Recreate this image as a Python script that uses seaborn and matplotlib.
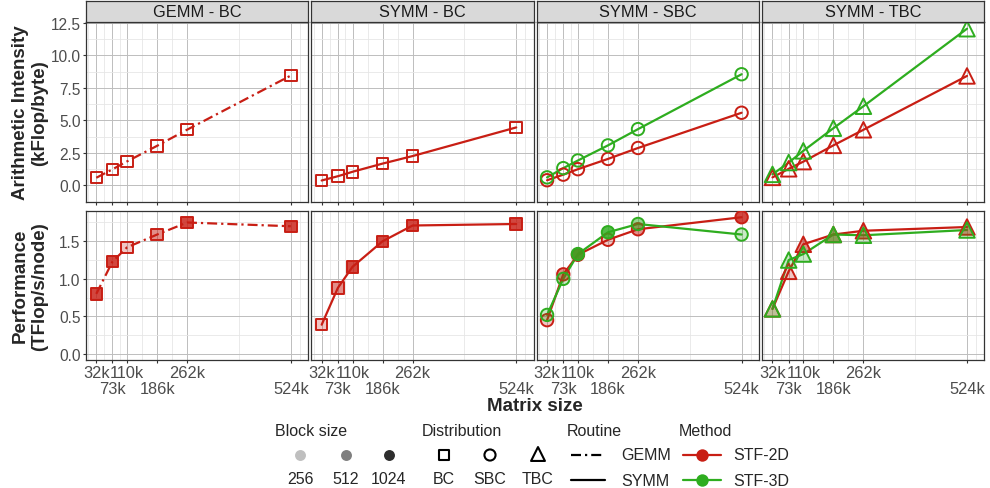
import numpy as np
import pandas as pd
import seaborn as sns
import matplotlib.pyplot as plt
from matplotlib.colors import to_rgba

sizes = [32, 73, 110, 186, 262, 524]
size_labels = ['32k', '73k', '110k', '186k', '262k', '524k']
panels = ['GEMM - BC', 'SYMM - BC', 'SYMM - SBC', 'SYMM - TBC']

# arithmetic intensity (kFlop/byte)
ai_gemm_bc_2d = [0.59, 1.24, 1.85, 3.05, 4.29, 8.45]
ai_symm_bc_2d = [0.38, 0.71, 1.05, 1.68, 2.26, 4.46]
ai_symm_sbc_2d = [0.40, 0.83, 1.25, 2.04, 2.88, 5.59]
ai_symm_sbc_3d = [0.62, 1.33, 1.92, 3.08, 4.33, 8.55]
ai_symm_tbc_2d = [0.62, 1.28, 1.83, 3.08, 4.28, 8.42]
ai_symm_tbc_3d = [0.85, 1.76, 2.66, 4.40, 6.09, 12.05]

# performance (TFlop/s/node)
perf_gemm_bc_2d = [0.80, 1.23, 1.42, 1.59, 1.75, 1.70]
perf_symm_bc_2d = [0.39, 0.88, 1.16, 1.50, 1.71, 1.73]
perf_symm_sbc_2d = [0.45, 1.06, 1.32, 1.52, 1.66, 1.82]
perf_symm_sbc_3d = [0.52, 1.00, 1.33, 1.62, 1.73, 1.59]
perf_symm_tbc_2d = [0.60, 1.10, 1.46, 1.59, 1.64, 1.69]
perf_symm_tbc_3d = [0.60, 1.25, 1.33, 1.59, 1.58, 1.65]

# block size of each point
bs_gemm_bc_2d = [1024, 1024, 256, 512, 1024, 1024]
bs_symm_bc_2d = [256, 512, 1024, 1024, 1024, 1024]
bs_symm_sbc_2d = [256, 512, 1024, 256, 512, 1024]
bs_symm_sbc_3d = [256, 256, 1024, 1024, 512, 256]
bs_symm_tbc_2d = [256, 256, 512, 512, 512, 512]
bs_symm_tbc_3d = [256, 256, 256, 512, 256, 256]

series = [
    ('GEMM - BC', 'GEMM', 'STF-2D', ai_gemm_bc_2d, perf_gemm_bc_2d, bs_gemm_bc_2d),
    ('SYMM - BC', 'SYMM', 'STF-2D', ai_symm_bc_2d, perf_symm_bc_2d, bs_symm_bc_2d),
    ('SYMM - SBC', 'SYMM', 'STF-2D', ai_symm_sbc_2d, perf_symm_sbc_2d, bs_symm_sbc_2d),
    ('SYMM - SBC', 'SYMM', 'STF-3D', ai_symm_sbc_3d, perf_symm_sbc_3d, bs_symm_sbc_3d),
    ('SYMM - TBC', 'SYMM', 'STF-2D', ai_symm_tbc_2d, perf_symm_tbc_2d, bs_symm_tbc_2d),
    ('SYMM - TBC', 'SYMM', 'STF-3D', ai_symm_tbc_3d, perf_symm_tbc_3d, bs_symm_tbc_3d),
]
rows = []
for panel, routine, method, ai, perf, bs in series:
    for s, a, p, b in zip(sizes, ai, perf, bs):
        rows.append(dict(panel=panel, routine=routine, method=method,
                         matrix=s, ai=a, perf=p, block=b))
df = pd.DataFrame(rows)

pal = {'STF-2D': '#C81E14', 'STF-3D': '#2EAD1F'}
dash_map = {'GEMM': (4.5, 1.8, 1, 1.8), 'SYMM': ''}
marker_map = {'GEMM - BC': 's', 'SYMM - BC': 's', 'SYMM - SBC': 'o', 'SYMM - TBC': '^'}
msize_map = {'s': 68, 'o': 80, '^': 125}
alpha_map = {256: 0.25, 512: 0.5, 1024: 0.82}

sns.set_style('white')
plt.rcParams['font.family'] = ['Liberation Sans', 'DejaVu Sans']

W, H = 990, 489
fig = plt.figure(figsize=(W / 100, H / 100), dpi=100)


def box(x0, y0, x1, y1):
    return [x0 / W, 1 - y1 / H, (x1 - x0) / W, (y1 - y0) / H]


col_x = [86 + i * 225.4 for i in range(4)]
pw = 222.2
row_y = [(22.7, 202.7), (211.7, 361.0)]
row_var = ['ai', 'perf']
row_ylim = [(-0.45, 12.59), (-0.08, 1.907)]
row_yticks = [[0, 2.5, 5, 7.5, 10, 12.5], [0, 0.5, 1.0, 1.5]]
row_yminor = [[-1.25, 1.25, 3.75, 6.25, 8.75, 11.25], [0.25, 0.75, 1.25, 1.75]]
x_minor = [11.5, 52.5, 91.5, 148, 224, 393, 547]
edge = '#333333'

for r in range(2):
    for c, panel in enumerate(panels):
        y0, y1 = row_y[r]
        ax = fig.add_axes(box(col_x[c], y0, col_x[c] + pw, y1))
        sub = df[df['panel'] == panel]
        sns.lineplot(data=sub, x='matrix', y=row_var[r], hue='method', style='routine',
                     palette=pal, dashes=dash_map, linewidth=1.6, legend=False, ax=ax)
        mk = marker_map[panel]
        for m in ['STF-2D', 'STF-3D']:
            d = sub[sub['method'] == m]
            if d.empty:
                continue
            if r == 0:
                fc = 'none'
            else:
                fc = [to_rgba(pal[m], alpha_map[b]) for b in d['block']]
            ax.scatter(d['matrix'], d[row_var[r]], marker=mk, s=msize_map[mk],
                       facecolors=fc, edgecolors=pal[m], linewidths=1.4, zorder=3)
        ax.set_xlim(6, 568)
        ax.set_ylim(*row_ylim[r])
        ax.set_xticks(sizes)
        ax.set_xticks(x_minor, minor=True)
        ax.set_yticks(row_yticks[r])
        ax.set_yticks(row_yminor[r], minor=True)
        ax.set_yticklabels(['%.1f' % v for v in row_yticks[r]])
        if r == 1:
            ax.set_xticklabels(size_labels)
        else:
            ax.set_xticklabels([])
        ax.grid(which='major', color='#BDBDBD', linewidth=0.7)
        ax.grid(which='minor', color='#E6E6E6', linewidth=0.6)
        ax.set_axisbelow(True)
        ax.set_xlabel('')
        ax.set_ylabel('')
        for sp in ax.spines.values():
            sp.set_color(edge)
            sp.set_linewidth(0.9)
        ax.tick_params(which='major', direction='out', length=2.3, width=0.8, color=edge,
                       labelcolor='#4D4D4D', pad=1.5,
                       bottom=True, left=(c == 0), labelleft=(c == 0))
        ax.tick_params(axis='y', which='major', labelsize=11.2)
        ax.tick_params(axis='x', which='major', labelsize=11.8, pad=1.0)
        ax.tick_params(which='minor', length=0)
        if r == 1:
            # second row of dodged labels
            for i, tk in enumerate(ax.xaxis.get_major_ticks()):
                if i % 2 == 1:
                    tk.set_pad(12.5)

        if r == 0:
            sax = fig.add_axes(box(col_x[c], 1.7, col_x[c] + pw, 22.7))
            sax.set_facecolor('#D9D9D9')
            sax.set_xticks([])
            sax.set_yticks([])
            for sp in sax.spines.values():
                sp.set_color(edge)
                sp.set_linewidth(0.9)
            sax.text(0.5, 0.47, panel, ha='center', va='center', fontsize=11.8,
                     color='#1A1A1A', transform=sax.transAxes)

fig.text(30 / W, 1 - 112.7 / H, 'Arithmetic Intensity\n(kFlop/byte)', rotation=90,
         ha='center', va='center', fontsize=13.5, fontweight='bold', multialignment='center')
fig.text(30 / W, 1 - 286.3 / H, 'Performance\n(TFlop/s/node)', rotation=90,
         ha='center', va='center', fontsize=13.5, fontweight='bold', multialignment='center')
fig.text(535 / W, 1 - 407 / H, 'Matrix size', ha='center', va='center',
         fontsize=13.5, fontweight='bold')

# legend, drawn in pixel coordinates
lg = fig.add_axes([0, 0, 1, 1], facecolor='none')
lg.set_xlim(0, W)
lg.set_ylim(H, 0)
lg.axis('off')
fs = 11.5
ky, ky2, ly = 456, 481, 479

lg.text(275, 431, 'Block size', fontsize=fs, va='center', ha='left')
for x, b in zip([300, 345.7, 389], [256, 512, 1024]):
    lg.scatter([x], [ky], s=62, color=to_rgba('black', alpha_map[b]), linewidths=0)
    lg.text(x, ly, str(b), fontsize=fs, ha='center', va='center')

lg.text(422, 431, 'Distribution', fontsize=fs, va='center', ha='left')
for x, mk, lab in zip([444, 490, 538], ['s', 'o', '^'], ['BC', 'SBC', 'TBC']):
    lg.scatter([x], [ky - (1 if mk == '^' else 0)], marker=mk, s=msize_map[mk] * 0.8,
               facecolors='none', edgecolors='black', linewidths=1.5)
    lg.text(x, ly, lab, fontsize=fs, ha='center', va='center')

lg.text(567, 431, 'Routine', fontsize=fs, va='center', ha='left')
lg.plot([571, 605], [ky, ky], color='black', linewidth=1.6, dashes=dash_map['GEMM'])
lg.plot([571, 605], [ky2, ky2], color='black', linewidth=1.6)
lg.text(621, ky, 'GEMM', fontsize=fs, va='center', ha='left')
lg.text(621, ky2, 'SYMM', fontsize=fs, va='center', ha='left')

lg.text(678.6, 431, 'Method', fontsize=fs, va='center', ha='left')
for yy, m in zip([ky, ky2], ['STF-2D', 'STF-3D']):
    lg.plot([683, 721], [yy, yy], color=pal[m], linewidth=1.6)
    lg.scatter([702], [yy], s=80, color=pal[m], linewidths=0, zorder=3)
    lg.text(733, yy, m, fontsize=fs, va='center', ha='left')

fig.savefig('out.png', dpi=100)
